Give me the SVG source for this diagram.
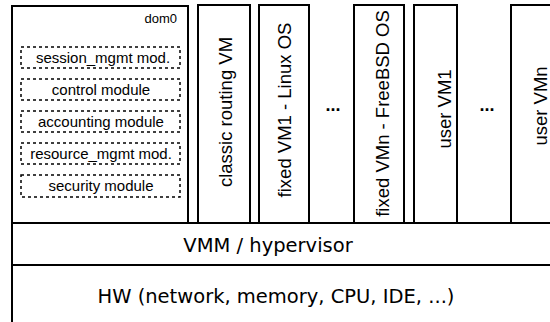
<svg xmlns="http://www.w3.org/2000/svg" width="550" height="322" viewBox="0 0 550 322">
<style>
.box{fill:#fff;stroke:#000;stroke-width:2}
.mod{fill:none;stroke:#000;stroke-width:1.5;stroke-dasharray:3 3}
.mt{font-family:"Liberation Sans",Arial,sans-serif;font-size:15px;text-anchor:middle;fill:#000}
.vt{font-family:"Liberation Sans",Arial,sans-serif;font-size:18.5px;text-anchor:middle;fill:#000}
.lt{font-family:"DejaVu Sans",Verdana,sans-serif;font-size:19.5px;text-anchor:middle;fill:#000}
.dots{font-family:"Liberation Sans",Arial,sans-serif;font-size:18px;font-weight:bold;text-anchor:middle;fill:#000}
</style>
<rect width="550" height="322" fill="#fff"/>
<g id="hw">
<rect class="box" x="12" y="265" width="560" height="80"/>
<text class="lt" x="276" y="303">HW (network, memory, CPU, IDE, ...)</text>
</g>
<g id="vmm">
<rect class="box" x="12" y="223" width="560" height="42"/>
<text class="lt" x="268" y="252">VMM / hypervisor</text>
</g>
<g id="dom0">
<rect class="box" x="12" y="6" width="176" height="217"/>
<text x="177" y="23" style="font-family:'Liberation Sans',Arial,sans-serif;font-size:13px;text-anchor:end">dom0</text>
<g id="session">
<rect class="mod" x="21" y="47" width="159" height="21"/>
<text class="mt" x="103" y="63">session_mgmt mod.</text>
</g>
<g id="control">
<rect class="mod" x="21" y="79" width="159" height="21"/>
<text class="mt" x="101" y="95">control module</text>
</g>
<g id="accounting">
<rect class="mod" x="21" y="111" width="159" height="21"/>
<text class="mt" x="101" y="127">accounting module</text>
</g>
<g id="resource">
<rect class="mod" x="21" y="143" width="159" height="21"/>
<text class="mt" x="101" y="159">resource_mgmt mod.</text>
</g>
<g id="security">
<rect class="mod" x="21" y="175" width="159" height="22"/>
<text class="mt" x="101" y="191">security module</text>
</g>
</g>
<g id="routing">
<rect class="box" x="198" y="5" width="52" height="218"/>
<text class="vt" transform="translate(232,112) rotate(-90)">classic routing VM</text>
</g>
<g id="fixed1">
<rect class="box" x="259" y="5" width="50" height="218"/>
<text class="vt" transform="translate(291,110) rotate(-90)">fixed VM1 - Linux OS</text>
</g>
<g id="dots1"><text class="dots" x="333" y="111">...</text></g>
<g id="fixedn">
<rect class="box" x="354" y="5" width="50" height="218"/>
<text class="vt" transform="translate(389,113.5) rotate(-90)">fixed VMn - FreeBSD OS</text>
</g>
<g id="user1">
<rect class="box" x="414" y="5" width="43" height="218"/>
<text class="vt" transform="translate(451,109) rotate(-90)">user VM1</text>
</g>
<g id="dots2"><text class="dots" x="487" y="111">...</text></g>
<g id="usern">
<rect class="box" x="511" y="5" width="60" height="218"/>
<text class="vt" transform="translate(547,106) rotate(-90)">user VMn</text>
</g>
<g id="connectors"></g>
</svg>
